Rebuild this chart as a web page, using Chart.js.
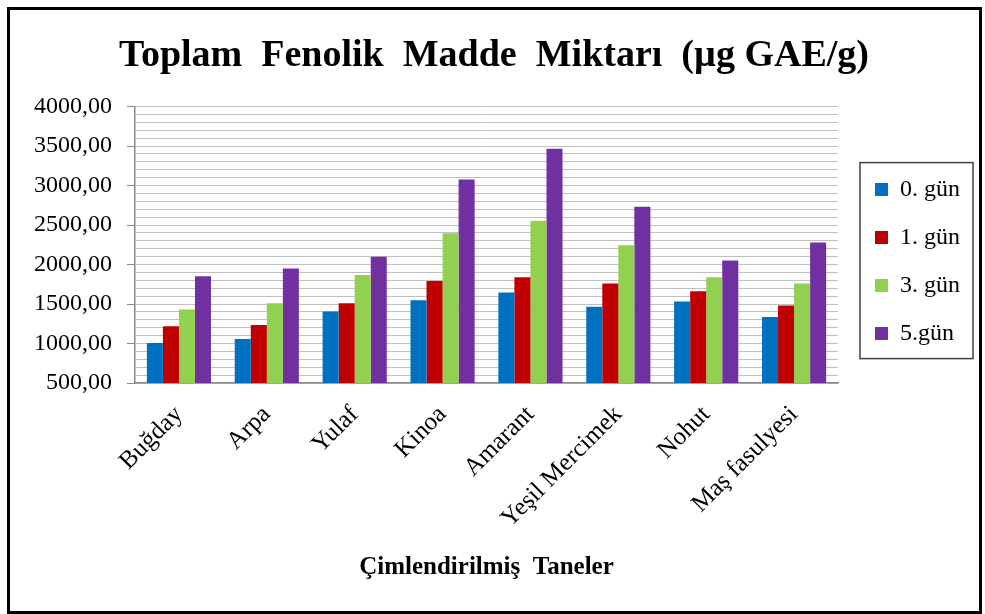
<!DOCTYPE html>
<html>
<head>
<meta charset="utf-8">
<script src="https://cdn.jsdelivr.net/npm/chart.js@4"></script>
<style>
  body { margin: 0; background: #fff; }
  #wrap { position: relative; width: 985px; height: 614px; }
  #frame { position: absolute; left: 7px; top: 7px; width: 975px; height: 607px;
           border: 3px solid #000; box-sizing: border-box; pointer-events: none; }
</style>
</head>
<body>
<div id="wrap">
  <canvas id="myChart" width="985" height="614"></canvas>
  <div id="frame"></div>
</div>
<script>
// data
const categories = ['Buğday', 'Arpa', 'Yulaf', 'Kinoa', 'Amarant', 'Yeşil Mercimek', 'Nohut', 'Maş fasulyesi'];
const seriesNames = ['0. gün', '1. gün', '3. gün', '5.gün'];
const gun0 = [1005, 1058, 1404, 1548, 1645, 1464, 1531, 1337];
const gun1 = [1218, 1235, 1510, 1793, 1839, 1759, 1662, 1480];
const gun3 = [1430, 1510, 1869, 2397, 2554, 2245, 1839, 1759];
const gun5 = [1852, 1949, 2098, 3078, 3467, 2732, 2051, 2279];
const yMin = 500, yMax = 4000, yStep = 100, yLabelStep = 500;

const colors = ['#0070C0', '#C00000', '#92D050', '#7030A0'];
const serif = '"Liberation Serif", "Times New Roman", serif';
const legendPad = 24;

// move the legend a bit and draw the box around it
const legendFrame = {
    id: 'legendFrame',
    afterLayout(chart) {
        const lg = chart.legend;
        const w = lg.right - lg.left;
        lg.left = chart.chartArea.right + 37 - legendPad;
        lg.right = lg.left + w;
        lg.top = chart.chartArea.top + 71 - legendPad;
    },
    afterDraw(chart) {
        const lg = chart.legend;
        const boxes = lg.legendHitBoxes;
        if (!boxes || !boxes.length) return;
        let right = 0;
        boxes.forEach(b => { right = Math.max(right, b.left + b.width); });
        const left = boxes[0].left - 15;
        const top = boxes[0].top - 15;
        const last = boxes[boxes.length - 1];
        const bottom = last.top + last.height + 13;
        const c = chart.ctx;
        c.save();
        c.strokeStyle = '#404040';
        c.lineWidth = 1.5;
        c.strokeRect(left, top, right + 13 - left, bottom - top);
        c.restore();
    }
};

const ctx = document.getElementById('myChart');

const myChart = new Chart(ctx, {
    type: 'bar',
    data: {
        labels: categories,
        datasets: [gun0, gun1, gun3, gun5].map((vals, i) => ({
            label: seriesNames[i],
            data: vals,
            backgroundColor: colors[i],
            borderWidth: 0
        }))
    },
    options: {
        responsive: false,
        animation: false,
        layout: { padding: { left: 31, right: 28, top: 0, bottom: 0 } },
        datasets: {
            bar: { categoryPercentage: 0.73, barPercentage: 1.0 }
        },
        plugins: {
            title: {
                display: true,
                text: 'Toplam  Fenolik  Madde  Miktarı  (µg GAE/g)',
                color: '#000',
                font: { family: serif, size: 38, weight: 'bold' },
                padding: { top: 33, bottom: 28 }
            },
            legend: {
                position: 'right',
                align: 'start',
                fullSize: false,
                labels: {
                    color: '#000',
                    font: { family: serif, size: 24 },
                    boxWidth: 13,
                    boxHeight: 13,
                    padding: legendPad
                }
            },
            tooltip: { enabled: false }
        },
        scales: {
            x: {
                grid: { display: false, drawTicks: false },
                border: { display: true, color: '#888', width: 1.5 },
                ticks: {
                    color: '#000',
                    font: { family: serif, size: 25 },
                    minRotation: 45,
                    maxRotation: 45,
                    autoSkip: false,
                    padding: 17
                },
                title: {
                    display: true,
                    text: 'Çimlendirilmiş  Taneler',
                    color: '#000',
                    font: { family: serif, size: 25, weight: 'bold' },
                    padding: { top: 0, bottom: 31 }
                },
                afterFit: (s) => { s.height = 231; }
            },
            y: {
                min: yMin,
                max: yMax,
                grid: {
                    color: '#c0c0c0',
                    lineWidth: 1,
                    tickLength: 8,
                    tickColor: (c) => (c.tick && c.tick.value % yLabelStep === 0) ? '#888' : 'rgba(0,0,0,0)'
                },
                border: { display: true, color: '#888', width: 1.5 },
                ticks: {
                    stepSize: yStep,
                    maxTicksLimit: 100,
                    autoSkip: false,
                    color: '#000',
                    padding: 15,
                    font: { family: serif, size: 24 },
                    callback: (v) => v % yLabelStep === 0 ? v.toFixed(2).replace('.', ',') : ''
                },
                afterFit: (s) => { s.width = 104; }
            }
        }
    },
    plugins: [legendFrame]
});
</script>
</body>
</html>
